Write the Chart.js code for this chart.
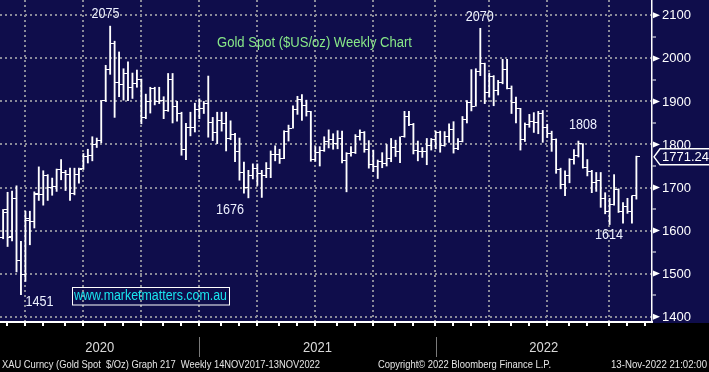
<!DOCTYPE html>
<html>
<head>
<meta charset="utf-8">
<script src="https://cdn.jsdelivr.net/npm/chart.js@4.4.0/dist/chart.umd.min.js"></script>
<style>
  html, body { margin: 0; padding: 0; background: #000; }
  #chart { display: block; }
</style>
</head>
<body>
<canvas id="chart" width="709" height="372"></canvas>
<script>
// weekly XAU bars, first week = 17 Feb 2020, last week = 7 Nov 2022
let opens = [
  1584,1650,1587,1674,1530,1499,1623,1620,1686,1683,
  1729,1701,1703,1743,1735,1730,1685,1730,1744,1771,
  1775,1799,1810,1902,1975,2035,1944,1940,1964,1933,
  1941,1950,1862,1900,1930,1900,1902,1879,1951,1889,
  1871,1788,1839,1839,1881,1883,1895,1850,1828,1856,
  1848,1814,1823,1784,1734,1700,1727,1745,1733,1729,
  1744,1777,1777,1768,1831,1838,1881,1905,1891,1877,
  1764,1781,1787,1808,1812,1802,1814,1763,1780,1781,
  1818,1827,1788,1754,1750,1761,1757,1767,1793,1783,
  1818,1865,1846,1785,1783,1783,1798,1811,1829,1797,
  1818,1835,1791,1808,1859,1898,1889,1970,1989,1921,
  1958,1925,1945,1975,1931,1897,1883,1811,1846,1853,
  1851,1871,1840,1826,1811,1742,1708,1727,1765,1775,
  1802,1747,1738,1712,1716,1675,1644,1661,1695,1644,
  1657,1645,1681
];
let highs = [
  1649,1689,1692,1704,1575,1645,1645,1690,1748,1739,
  1730,1722,1743,1765,1740,1745,1745,1745,1779,1789,
  1818,1815,1902,1984,2075,2040,2015,1976,1992,1966,
  1973,1952,1917,1933,1933,1933,1911,1965,1965,1900,
  1875,1849,1875,1896,1906,1900,1959,1863,1875,1875,
  1875,1855,1826,1815,1759,1740,1755,1755,1740,1758,
  1785,1797,1789,1832,1845,1890,1912,1916,1903,1877,
  1795,1795,1818,1834,1825,1832,1831,1781,1795,1823,
  1834,1830,1809,1787,1764,1781,1800,1814,1810,1818,
  1877,1877,1849,1808,1793,1814,1814,1831,1831,1830,
  1848,1853,1814,1865,1902,1974,1976,2070,1989,1966,
  1960,1949,1998,1998,1936,1910,1884,1850,1870,1874,
  1877,1879,1847,1831,1813,1745,1739,1767,1788,1808,
  1802,1765,1740,1735,1735,1688,1675,1730,1697,1665,
  1675,1681,1773
];
let lows = [
  1581,1563,1576,1504,1451,1482,1567,1606,1670,1659,
  1670,1682,1691,1718,1693,1670,1683,1710,1742,1757,
  1762,1793,1804,1900,1963,1863,1911,1903,1902,1907,
  1933,1848,1860,1873,1892,1895,1860,1877,1850,1854,
  1775,1765,1820,1829,1860,1872,1817,1809,1802,1831,
  1785,1811,1760,1717,1687,1676,1720,1705,1677,1723,
  1723,1762,1756,1767,1808,1838,1870,1856,1866,1761,
  1761,1750,1784,1792,1789,1790,1757,1690,1773,1779,
  1810,1782,1745,1737,1721,1746,1750,1760,1772,1758,
  1817,1844,1778,1762,1770,1753,1787,1790,1782,1796,
  1805,1780,1788,1806,1850,1878,1889,1960,1895,1910,
  1890,1915,1941,1929,1872,1850,1787,1807,1840,1828,
  1825,1805,1816,1784,1733,1697,1681,1711,1754,1771,
  1745,1727,1688,1691,1654,1639,1614,1659,1642,1617,
  1640,1617,1673
];
let closes = [
  1643,1585,1674,1530,1498,1628,1620,1683,1683,1729,
  1700,1703,1743,1735,1730,1685,1730,1743,1771,1775,
  1799,1810,1902,1975,2035,1944,1940,1964,1933,1941,
  1950,1862,1900,1930,1900,1902,1879,1951,1889,1871,
  1788,1839,1839,1881,1883,1895,1850,1828,1856,1848,
  1814,1823,1784,1734,1700,1727,1745,1733,1729,1744,
  1777,1777,1768,1831,1838,1881,1905,1891,1877,1764,
  1781,1787,1808,1812,1802,1814,1763,1780,1781,1818,
  1827,1788,1754,1750,1761,1757,1767,1793,1783,1818,
  1865,1846,1785,1783,1783,1798,1811,1829,1797,1818,
  1835,1791,1808,1859,1898,1889,1970,1989,1921,1958,
  1925,1945,1975,1931,1897,1883,1811,1846,1853,1851,
  1871,1840,1826,1811,1742,1708,1727,1765,1775,1802,
  1747,1738,1712,1716,1675,1644,1661,1695,1644,1657,
  1645,1681,1771.24
];

// axis stuff (x values are week numbers)
let yTicks = [1400,1450,1500,1550,1600,1650,1700,1750,1800,1850,1900,1950,2000,2050,2100];
let monthTicks = [1,5,9,14,18,23,27,31,36,40,44,49,53,57,62,66,70,75,79,83,88,92,97,101,105,109,114,118,122,127,131,136,140,144];
let quarterTicks = [5,18,31,44,57,70,83,97,109,122,136];
let years = ["2020","2021","2022"];
let yearStarts = [44,97];

// highs / lows marked on the chart
let noteWeeks = [4,24,55,107,130,136];
let noteValues = [1451,2075,1676,2070,1808,1614];

const NAVY = "#0f0d4b";
const FONT = "'Liberation Sans', Arial, sans-serif";

function tickImg(side){
  let c = document.createElement("canvas");
  c.width = 7; c.height = 1;
  let g = c.getContext("2d");
  g.fillStyle = "#fff";
  g.fillRect(side == "left" ? 0 : 4, 0, 3, 1);
  return c;
}

let decor = {
  id: "decor",
  beforeDraw(chart){
    let ctx = chart.ctx, a = chart.chartArea;
    ctx.save();
    ctx.fillStyle = "#000";
    ctx.fillRect(0, 0, chart.width, chart.height);
    ctx.fillStyle = NAVY;
    ctx.fillRect(0, 0, chart.width, a.bottom + 1);
    ctx.restore();
    ctx.imageSmoothingEnabled = false;
  },
  afterDraw(chart){
    let ctx = chart.ctx, a = chart.chartArea;
    let xs = chart.scales.x, ys = chart.scales.y;
    ctx.save();

    // right axis labels with arrow marks
    ctx.fillStyle = "#fff";
    ctx.font = "13px " + FONT;
    ctx.textBaseline = "middle";
    yTicks.filter(v => v % 100 == 0).forEach(v => {
      let y = ys.getPixelForValue(v);
      ctx.beginPath();
      ctx.moveTo(a.right + 1, y - 3);
      ctx.lineTo(a.right + 8, y);
      ctx.lineTo(a.right + 1, y + 3);
      ctx.closePath();
      ctx.fill();
      ctx.fillText(String(v), a.right + 10, y + 0.5);
    });

    // last price tag
    let last = closes[closes.length - 1];
    let ly = ys.getPixelForValue(last);
    ctx.beginPath();
    ctx.moveTo(a.right + 2, ly);
    ctx.lineTo(a.right + 8, ly - 8);
    ctx.lineTo(chart.width + 2, ly - 8);
    ctx.lineTo(chart.width + 2, ly + 8);
    ctx.lineTo(a.right + 8, ly + 8);
    ctx.closePath();
    ctx.fillStyle = NAVY;
    ctx.fill();
    ctx.strokeStyle = "#fff";
    ctx.lineWidth = 1.5;
    ctx.stroke();
    ctx.fillStyle = "#fff";
    ctx.fillText(last.toFixed(2), a.right + 10, ly + 0.5, 47);

    // high / low notes
    let noteShift = [[18.6,7.7],[-4.6,-12],[-18.5,12.6],[-0.6,-11.5],[0,-16.3],[-0.6,11]];
    ctx.font = "14px " + FONT;
    ctx.textAlign = "center";
    ctx.fillStyle = "#eef2ff";
    noteWeeks.forEach((w, i) => {
      let x = xs.getPixelForValue(w) + noteShift[i][0];
      let y = ys.getPixelForValue(noteValues[i]) + noteShift[i][1];
      ctx.fillText(String(noteValues[i]), x, y, 28);
    });

    // title
    ctx.textAlign = "left";
    ctx.fillStyle = "#88e888";
    ctx.fillText("Gold Spot ($US/oz) Weekly Chart", 217, 43, 195);

    // website box
    ctx.strokeStyle = "#fff";
    ctx.lineWidth = 1;
    ctx.strokeRect(72.5, 287.5, 157, 17.5);
    ctx.fillStyle = "#19e6ee";
    ctx.fillText("www.marketmatters.com.au", 74, 296.5, 153);

    // years under the axis
    let bounds = [a.left].concat(yearStarts.map(w => xs.getPixelForValue(w))).concat([a.right]);
    ctx.fillStyle = "#d8d8d8";
    ctx.textAlign = "center";
    ctx.font = "14px " + FONT;
    years.forEach((yr, i) => {
      ctx.fillText(yr, (bounds[i] + bounds[i + 1]) / 2, 348, 29);
    });
    ctx.strokeStyle = "#7a7a7a";
    ctx.lineWidth = 1;
    yearStarts.forEach(w => {
      let x = Math.round(xs.getPixelForValue(w)) + 0.5;
      ctx.beginPath();
      ctx.moveTo(x, 337);
      ctx.lineTo(x, 357);
      ctx.stroke();
    });

    // footer
    ctx.textAlign = "left";
    ctx.fillStyle = "#e4e4e4";
    ctx.font = "11px " + FONT;
    ctx.fillText("XAU Curncy (Gold Spot  $/Oz) Graph 217  Weekly 14NOV2017-13NOV2022", 2, 365, 318);
    ctx.fillText("Copyright\u00a9 2022 Bloomberg Finance L.P.", 378, 365, 173);
    ctx.fillText("13-Nov-2022 21:02:00", 611, 365, 96);

    ctx.restore();
  }
};

let grey = "#8a8a98";

new Chart(document.getElementById("chart"), {
  type: "bar",
  data: {
    datasets: [
      {
        type: "bar",
        data: highs.map((h, i) => ({x: i, y: [lows[i], h]})),
        backgroundColor: "#fff",
        borderWidth: 0,
        barThickness: 1.2,
        order: 2
      },
      {
        type: "line",
        data: opens.map((o, i) => ({x: i, y: o})),
        showLine: false,
        pointStyle: tickImg("left"),
        pointRadius: 2,
        order: 1
      },
      {
        type: "line",
        data: closes.map((c, i) => ({x: i, y: c})),
        showLine: false,
        pointStyle: tickImg("right"),
        pointRadius: 2,
        order: 1
      }
    ]
  },
  options: {
    responsive: false,
    animation: false,
    devicePixelRatio: 1,
    events: [],
    layout: { padding: 0, autoPadding: false },
    plugins: { legend: { display: false }, tooltip: { enabled: false } },
    scales: {
      x: {
        type: "linear",
        min: -0.7,
        max: 145.5,
        offset: false,
        afterBuildTicks: s => { s.ticks = monthTicks.map(v => ({value: v - 0.15})); },
        afterFit: s => { s.height = 50; },
        ticks: { display: false },
        grid: {
          offset: false,
          lineWidth: 2,
          color: c => quarterTicks.includes(Math.round(c.tick ? c.tick.value : -1)) ? grey : "transparent",
          tickColor: "#fff",
          tickLength: 4,
          tickWidth: 2
        },
        border: { color: "#fff", width: 2, dash: [2, 3] }
      },
      y: {
        type: "linear",
        position: "right",
        min: 1387.6,
        max: 2135.7,
        afterBuildTicks: s => { s.ticks = yTicks.map(v => ({value: v})); },
        afterFit: s => { s.width = 57; },
        ticks: { display: false },
        grid: {
          lineWidth: 2,
          color: c => (c.tick && c.tick.value % 100 == 0) ? grey : "transparent",
          tickColor: c => (c.tick && c.tick.value % 100 == 0) ? "transparent" : "#fff",
          tickLength: 4,
          tickWidth: 1
        },
        border: { color: "#fff", width: 1.5, dash: [2, 3] }
      }
    }
  },
  plugins: [decor]
});
</script>
</body>
</html>
